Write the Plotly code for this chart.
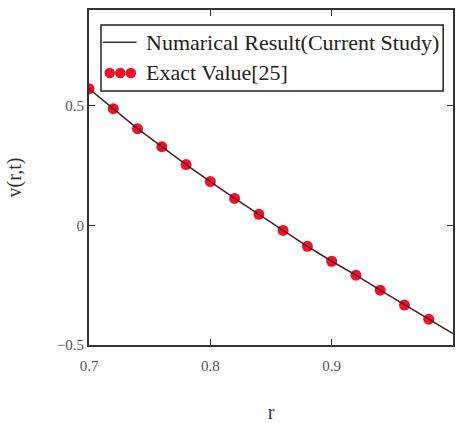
import plotly.graph_objects as go

# Exact values [25]
r_exact = [0.70, 0.72, 0.74, 0.76, 0.78, 0.80, 0.82, 0.84, 0.86, 0.88, 0.90, 0.92, 0.94, 0.96, 0.98]
v_exact = [0.571, 0.4875, 0.404, 0.329, 0.254, 0.183, 0.1125, 0.046, -0.021, -0.0875, -0.15, -0.208, -0.271, -0.333, -0.392]

# Numerical result (current study)
r_num = [0.70, 0.72, 0.74, 0.76, 0.78, 0.80, 0.82, 0.84, 0.86, 0.88, 0.90, 0.92, 0.94, 0.96, 0.98, 1.00]
v_num = [0.571, 0.4875, 0.404, 0.329, 0.254, 0.183, 0.1125, 0.046, -0.021, -0.0875, -0.15, -0.208, -0.271, -0.333, -0.392, -0.452]

x_ticks = [0.7, 0.8, 0.9]
y_ticks = [-0.5, 0, 0.5]
y_ticklabels = ["\u22120.5", "0", "0.5"]

serif = "Liberation Serif"

fig = go.Figure()
fig.add_trace(go.Scatter(x=r_exact, y=v_exact, mode="markers",
                         marker=dict(color="#f0102a", size=11),
                         name="Exact Value[25]", showlegend=False))
fig.add_trace(go.Scatter(x=r_num, y=v_num, mode="lines",
                         line=dict(color="#4a1c24", width=1.5),
                         name="Numarical Result(Current Study)", showlegend=False))

# Custom legend (paper coordinates)
fig.add_shape(type="rect", xref="paper", yref="paper", x0=0.033, x1=0.973, y0=0.758, y1=0.955,
              line=dict(color="#222", width=1.5), fillcolor="white", layer="above")
fig.add_shape(type="line", xref="paper", yref="paper", x0=0.038, x1=0.131, y0=0.904, y1=0.904,
              line=dict(color="#3a3040", width=1.5), layer="above")
for xd in [0.057, 0.086, 0.115]:
    fig.add_shape(type="circle", xref="paper", yref="paper",
                  x0=xd - 0.0145, x1=xd + 0.0145, y0=0.812 - 0.0158, y1=0.812 + 0.0158,
                  fillcolor="#f0102a", line=dict(color="#f0102a", width=0), layer="above")
fig.add_annotation(xref="paper", yref="paper", x=0.150, y=0.904, xanchor="left", yanchor="middle",
                   text="Numarical Result(Current Study)", showarrow=False,
                   font=dict(family=serif, size=22, color="#222"))
fig.add_annotation(xref="paper", yref="paper", x=0.150, y=0.812, xanchor="left", yanchor="middle",
                   text="Exact Value[25]", showarrow=False,
                   font=dict(family=serif, size=22, color="#222"))

axis_common = dict(showline=True, linecolor="#333", linewidth=2, mirror="ticks",
                   ticks="inside", ticklen=6, tickcolor="#333", showgrid=False, zeroline=False,
                   tickfont=dict(family=serif, size=15, color="#555"))

fig.update_xaxes(range=[0.7, 1.0], tickvals=x_ticks, ticktext=["0.7", "0.8", "0.9"],
                 ticklabelstandoff=6,
                 title=dict(text="r", font=dict(family=serif, size=20, color="#333"), standoff=32),
                 **axis_common)
fig.update_yaxes(range=[-0.5, 0.9], tickvals=y_ticks, ticktext=y_ticklabels,
                 title=dict(text="v(r,t)", font=dict(family=serif, size=20, color="#333"), standoff=30),
                 **axis_common)

fig.update_layout(width=456, height=423, margin=dict(l=89, r=1, t=10, b=78),
                  plot_bgcolor="white", paper_bgcolor="white", showlegend=False)

fig.write_html("out.html")
